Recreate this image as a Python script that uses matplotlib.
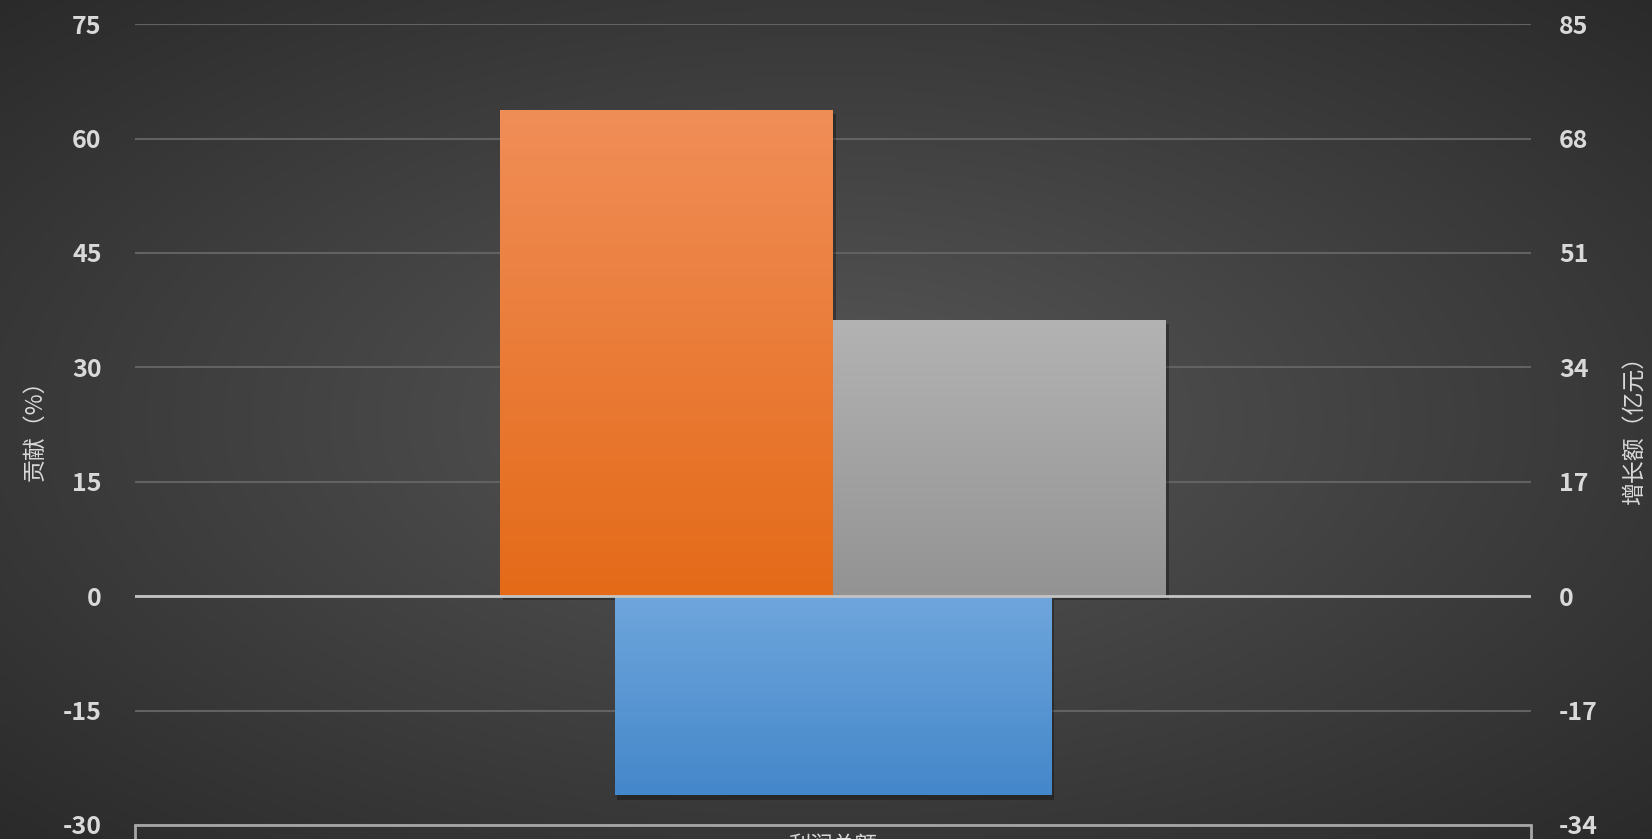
import numpy as np
import matplotlib
matplotlib.use('Agg')
import matplotlib.pyplot as plt
import matplotlib.patheffects as pe
from matplotlib.colors import LinearSegmentedColormap

plt.rcParams['font.family'] = ['Noto Sans CJK SC', 'DejaVu Sans']
plt.rcParams['axes.unicode_minus'] = False

# ── 数据 ──────────────────────────────────────────
categories = ['利润总额']
contrib_a = [63.8]      # 贡献 (%)  橙色
contrib_b = [36.2]      # 贡献 (%)  灰色
growth = [-29.6]        # 增长额 (亿元)  蓝色

left_ticks = [-30, -15, 0, 15, 30, 45, 60, 75]
right_ticks = [-34, -17, 0, 17, 34, 51, 68, 85]

TXT = '#d9d9d9'

fig = plt.figure(figsize=(16.52, 8.39), dpi=100)

# ── 背景 (径向渐变) ──
bg = fig.add_axes([0, 0, 1, 1], zorder=-10)
yy, xx = np.mgrid[0:1:400j, 0:1:800j]
r = np.sqrt(((xx - 0.5) / 0.75) ** 2 + ((yy - 0.5) / 0.75) ** 2)
r = np.clip(r / 0.95, 0, 1)
bg_cmap = LinearSegmentedColormap.from_list('bg', ['#575757', '#2a2a2a'])
bg.imshow(r, cmap=bg_cmap, aspect='auto', extent=[0, 1, 0, 1], vmin=0, vmax=1)
bg.axis('off')

ax = fig.add_axes([0.0817, 0.0167, 0.8451, 0.9545])
ax.patch.set_alpha(0)
ax2 = ax.twinx()
ax2.patch.set_alpha(0)

x = np.arange(len(categories))
w = 0.2385


def grad_bars(a, bars, top, bottom):
    cm = LinearSegmentedColormap.from_list('g', [bottom, top])
    grad = np.linspace(0, 1, 256).reshape(-1, 1)
    for b in bars:
        x0, y0 = b.get_x(), b.get_y()
        x1, y1 = x0 + b.get_width(), y0 + b.get_height()
        b.set_facecolor('none')
        b.set_path_effects([pe.SimplePatchShadow(offset=(2, -3), shadow_rgbFace='black', alpha=0.3),
                            pe.Normal()])
        im = a.imshow(grad, cmap=cm, aspect='auto', origin='lower',
                      extent=[x0, x1, min(y0, y1), max(y0, y1)], zorder=b.get_zorder())
        im.set_clip_path(b)


bars_a = ax.bar(x - w / 2, contrib_a, w, color='#f28130', linewidth=0, zorder=2)
bars_b = ax.bar(x + w / 2, contrib_b, w, color='#a5a5a5', linewidth=0, zorder=2)
grad_bars(ax, bars_a, '#f08e58', '#e46a18')
grad_bars(ax, bars_b, '#b3b3b3', '#939393')

bars_c = ax2.bar(x, growth, 0.313, color='#5b9bd5', linewidth=0, zorder=2)
grad_bars(ax2, bars_c, '#6fa6dc', '#4487ca')

ax.set_xlim(-0.5, 0.5)
ax.set_ylim(-30, 75)
ax2.set_ylim(-34, 85)
ax.set_yticks(left_ticks)
ax2.set_yticks(right_ticks)

ax.grid(axis='y', color='#626262', lw=1.5, zorder=0)
ax.set_axisbelow(True)
ax2.axhline(0, color='#c4c4c4', lw=2, zorder=5)

for a in (ax, ax2):
    for s in ('top', 'left', 'right', 'bottom'):
        a.spines[s].set_visible(False)
ax.spines['bottom'].set_visible(True)
ax.spines['bottom'].set_color('#a6a6a6')
ax.spines['bottom'].set_linewidth(2)

# 类别标签在底部被截掉一半，与原图一致
ax.set_xticks(x)
ax.set_xticklabels(categories, fontsize=16, color=TXT)
ax.tick_params(axis='x', which='major', length=0, pad=6)
ax.set_xticks([-0.5, 0.5], minor=True)
ax.tick_params(axis='x', which='minor', length=30, width=2, color='#a6a6a6', direction='out')

ax.tick_params(axis='y', length=0, pad=24, labelsize=18, labelcolor=TXT)
ax2.tick_params(axis='y', length=0, pad=20, labelsize=18, labelcolor=TXT)
for lab in ax.get_yticklabels() + ax2.get_yticklabels():
    lab.set_fontweight('bold')

ax.set_ylabel('贡献（%）', fontsize=16.5, color=TXT, labelpad=12)
ax2.set_ylabel('增长额（亿元）', fontsize=16.5, color=TXT, labelpad=18, rotation=90)

fig.savefig('out.png', dpi=100)
